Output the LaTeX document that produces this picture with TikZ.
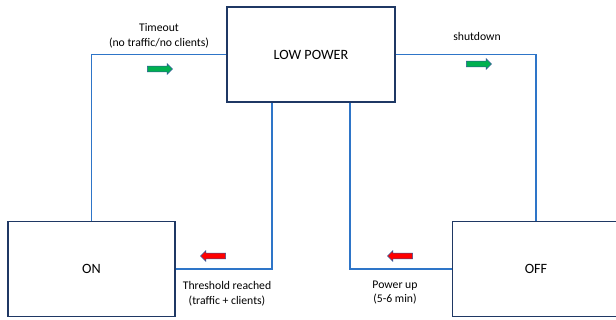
\documentclass[tikz,border=0pt]{standalone}
\usepackage{fontspec}
\setmainfont{Carlito}
\usetikzlibrary{shapes.arrows, positioning}
\definecolor{boxnavy}{RGB}{31,56,100}
\definecolor{linkblue}{RGB}{46,117,200}
\definecolor{gogreen}{RGB}{0,176,80}
\definecolor{stopred}{RGB}{255,0,0}
\definecolor{tipedge}{RGB}{47,85,151}
\tikzset{
  state/.style={rectangle, draw=boxnavy, line width=1.8pt, fill=white,
    minimum width=167pt, minimum height=95pt, font=\fontsize{14.2}{16}\selectfont},
  link/.style={draw=linkblue, line width=1.4pt},
  lbl/.style={align=center, font=\fontsize{11.7}{14.5}\selectfont, inner sep=0pt},
  blockarrow/.style={single arrow, draw=tipedge, line width=0.5pt,
    minimum height=25pt, minimum width=0pt, inner xsep=0pt, inner ysep=2.6pt,
    single arrow head extend=2.4pt, single arrow head indent=0pt},
  goarrow/.style={blockarrow, fill=gogreen},
  backarrow/.style={blockarrow, fill=stopred, shape border rotate=180}
}

\begin{document}
\begin{tikzpicture}[x=1pt, y=-1pt]
  \useasboundingbox (0,0) rectangle (616,320);
  % states
  \node[state, minimum width=168pt] (low) at (311,54.5) {LOW POWER};
  \node[state] (on) at (91.5,269) {ON};
  \node[state] (off) at (536,269) {OFF};
  % links
  \draw[link] (on.north) |- (low.west);
  \draw[link] (low.east) -| (off.north);
  \draw[link] ([xshift=-39pt]low.south) |- (on.east);
  \draw[link] ([xshift=39pt]low.south) |- (off.west);
  % direction marks
  \node[goarrow] (mtimeout) at (158.5,69) {};
  \node[goarrow] (mshutdown) at (477.5,64) {};
  \node[backarrow] (mthreshold) at (214.5,256) {};
  \node[backarrow] (mpowerup) at (401.5,256) {};
  % labels
  \node[lbl] (ltimeout) at (159,36) {Timeout\\(no traffic/no clients)};
  \node[lbl] (lshutdown) at (477,36) {shutdown};
  \node[lbl] (lthreshold) at (227,293.5) {Threshold reached\\(traffic + clients)};
  \node[lbl] (lpowerup) at (395,292.5) {Power up\\(5-6 min)};
\end{tikzpicture}
\end{document}
